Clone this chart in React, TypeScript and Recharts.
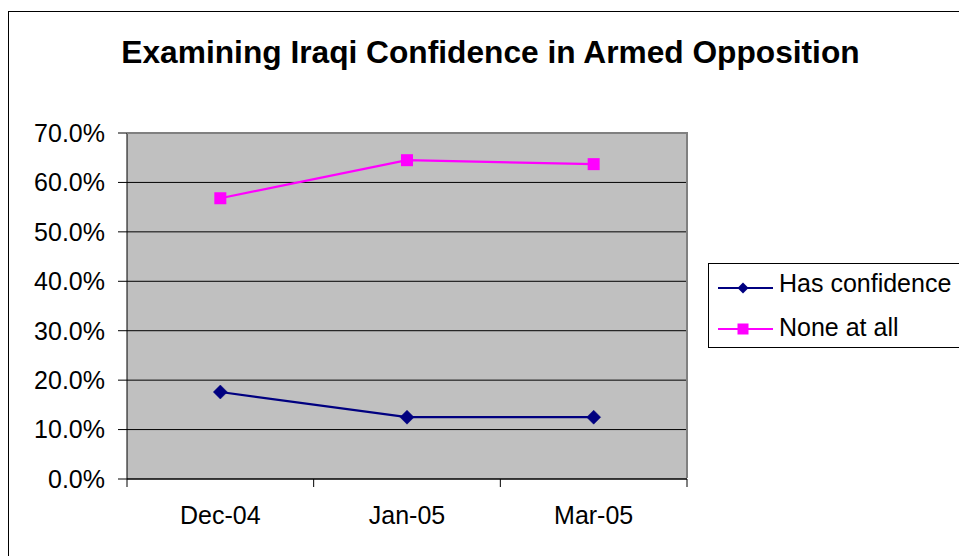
import React from 'react';
import { LineChart, Line, XAxis, YAxis, CartesianGrid } from 'recharts';

const title = 'Examining Iraqi Confidence in Armed Opposition';
const categories = ['Dec-04', 'Jan-05', 'Mar-05'];
const hasConfidence = [17.6, 12.5, 12.5];
const noneAtAll = [56.8, 64.5, 63.7];
const yTicks = [0, 10, 20, 30, 40, 50, 60, 70];
const seriesNames = ['Has confidence', 'None at all'];

const data = categories.map((c, i) => ({ cat: c, has: hasConfidence[i], none: noneAtAll[i] }));

const FONT = '"Liberation Sans", Arial, sans-serif';
const W = 959;
const H = 556;
const PLOT_L = 127;
const PLOT_R = 687;
const PLOT_T = 133;
const PLOT_B = 479;
const X_AXIS_H = 40;
const HALF_BAND = (PLOT_R - PLOT_L) / categories.length / 2;
const NAVY = '#000080';
const MAGENTA = '#FF00FF';

const Diamond = (props: any) => {
  const { cx, cy, index } = props;
  if (cx == null || cy == null) return <g key={`d-${index}`} />;
  const r = 7;
  return (
    <path
      key={`d-${index}`}
      d={`M${cx},${cy - r}L${cx + r},${cy}L${cx},${cy + r}L${cx - r},${cy}Z`}
      fill={NAVY}
      stroke={NAVY}
      strokeWidth={0.5}
    />
  );
};

const Square = (props: any) => {
  const { cx, cy, index } = props;
  if (cx == null || cy == null) return <g key={`s-${index}`} />;
  const s = 12;
  return <rect key={`s-${index}`} x={cx - s / 2} y={cy - s / 2} width={s} height={s} fill={MAGENTA} />;
};

const XTick = (props: any) => {
  const { x, y, payload, index } = props;
  return (
    <g>
      <line x1={x - HALF_BAND} y1={y} x2={x - HALF_BAND} y2={y + 8} stroke="#000" strokeWidth={1} />
      {index === categories.length - 1 && (
        <line x1={x + HALF_BAND} y1={y} x2={x + HALF_BAND} y2={y + 8} stroke="#000" strokeWidth={1} />
      )}
      <text x={x} y={y + 45} textAnchor="middle" fontFamily={FONT} fontSize={25} fill="#000">
        {payload.value}
      </text>
    </g>
  );
};

export default function App() {
  return (
    <div style={{ position: 'fixed', left: 0, top: 0, width: W, height: H, overflow: 'hidden', background: '#fff' }}>
      <div
        style={{
          position: 'absolute',
          left: 8,
          top: 11,
          width: 1000,
          height: 700,
          border: '1px solid #000',
          boxSizing: 'border-box',
        }}
      />
      <div style={{ position: 'absolute', left: 0, top: 0 }}>
        <LineChart
          width={W}
          height={H}
          data={data}
          margin={{ top: PLOT_T, right: W - PLOT_R, bottom: H - PLOT_B - X_AXIS_H, left: 0 }}
        >
          <CartesianGrid vertical={false} stroke="#000" fill="#C0C0C0" fillOpacity={1} />
          <XAxis
            dataKey="cat"
            padding={{ left: HALF_BAND, right: HALF_BAND }}
            tickLine={false}
            tickSize={0}
            tickMargin={0}
            height={X_AXIS_H}
            interval={0}
            axisLine={{ stroke: '#000', strokeWidth: 1 }}
            tick={<XTick />}
          />
          <YAxis
            domain={[0, 70]}
            ticks={yTicks}
            interval={0}
            width={PLOT_L}
            tickSize={9}
            tickMargin={13}
            axisLine={{ stroke: '#000', strokeWidth: 1 }}
            tickLine={{ stroke: '#000', strokeWidth: 1 }}
            tick={{ fill: '#000', fontSize: 25, fontFamily: FONT }}
            tickFormatter={(v: number) => `${v.toFixed(1)}%`}
          />
          <Line
            dataKey="has"
            name={seriesNames[0]}
            stroke={NAVY}
            strokeWidth={2.2}
            dot={Diamond}
            isAnimationActive={false}
          />
          <Line
            dataKey="none"
            name={seriesNames[1]}
            stroke={MAGENTA}
            strokeWidth={2.2}
            dot={Square}
            isAnimationActive={false}
          />
        </LineChart>
      </div>
      <div
        style={{
          position: 'absolute',
          left: PLOT_L,
          top: PLOT_T - 1,
          width: PLOT_R - PLOT_L + 1,
          height: PLOT_B - PLOT_T,
          borderTop: '2px solid #808080',
          borderRight: '2px solid #808080',
          boxSizing: 'border-box',
          pointerEvents: 'none',
        }}
      />
      <svg style={{ position: 'absolute', left: 0, top: 0 }} width={W} height={H}>
        <text x={490.5} y={63} textAnchor="middle" fontFamily={FONT} fontWeight="bold" fontSize={31.7} fill="#000">
          {title}
        </text>
        <rect x={708.5} y={263.5} width={300} height={84} fill="#fff" stroke="#000" strokeWidth={1} />
        <line x1={718} y1={288} x2={773} y2={288} stroke={NAVY} strokeWidth={2} />
        <path d="M743,282.5L748.5,288L743,293.5L737.5,288Z" fill={NAVY} />
        <text x={779} y={292} fontFamily={FONT} fontSize={25} fill="#000">
          {seriesNames[0]}
        </text>
        <line x1={718} y1={329} x2={773} y2={329} stroke={MAGENTA} strokeWidth={2} />
        <rect x={737.5} y={323.5} width={11} height={11} fill={MAGENTA} />
        <text x={779} y={336} fontFamily={FONT} fontSize={25} fill="#000">
          {seriesNames[1]}
        </text>
      </svg>
    </div>
  );
}
